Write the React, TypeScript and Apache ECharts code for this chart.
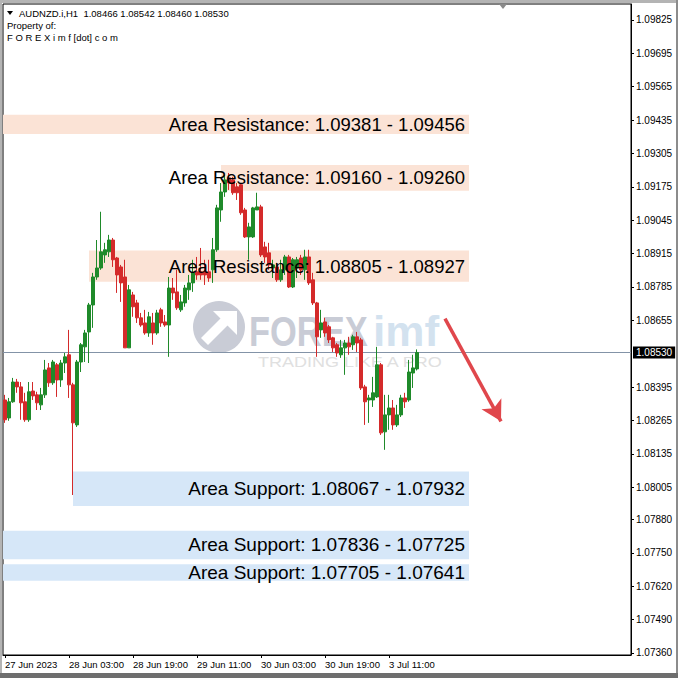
import React, { useEffect, useRef } from 'react';
import * as echarts from 'echarts';

const SYMBOL = 'AUDNZD.i,H1';
const START_UTC = Date.UTC(2023, 5, 27, 11);
const SLOT_COUNT = 157;
const MONTHS = ['Jan', 'Feb', 'Mar', 'Apr', 'May', 'Jun', 'Jul', 'Aug', 'Sep', 'Oct', 'Nov', 'Dec'];

const opens = [
  1.08345, 1.08275, 1.08338, 1.08415, 1.08396, 1.08338, 1.08268, 1.08380, 1.08365, 1.08326,
  1.08365, 1.08470, 1.08412, 1.08482, 1.08423, 1.08489, 1.08521, 1.08404, 1.08248, 1.08493,
  1.08552, 1.08610, 1.08715, 1.08824, 1.08859, 1.08910, 1.08922, 1.08968, 1.08898, 1.08863,
  1.08824, 1.08548, 1.08754, 1.08723, 1.08665, 1.08645, 1.08606, 1.08645, 1.08606, 1.08696,
  1.08649, 1.08637, 1.08781, 1.08766, 1.08696, 1.08723, 1.08774, 1.08801, 1.08844, 1.08844,
  1.08844, 1.08844, 1.08852, 1.08930, 1.09085, 1.09155, 1.09210, 1.09202, 1.09175, 1.09183,
  1.09085, 1.08980, 1.08980, 1.09085, 1.09097, 1.08941, 1.08918, 1.08859, 1.08863, 1.08813,
  1.08852, 1.08902, 1.08785, 1.08859, 1.08898, 1.08852, 1.08902, 1.08813, 1.08723, 1.08618,
  1.08649, 1.08630, 1.08587, 1.08560, 1.08521, 1.08548, 1.08567, 1.08560, 1.08591, 1.08579,
  1.08396, 1.08345, 1.08345, 1.08357, 1.08482, 1.08221, 1.08287, 1.08314, 1.08248, 1.08287,
  1.08353, 1.08345, 1.08450, 1.08466,
];
const closes = [
  1.08268, 1.08338, 1.08415, 1.08396, 1.08334, 1.08268, 1.08377, 1.08361, 1.08334, 1.08365,
  1.08462, 1.08412, 1.08493, 1.08423, 1.08489, 1.08513, 1.08404, 1.08256, 1.08493, 1.08560,
  1.08606, 1.08715, 1.08824, 1.08859, 1.08922, 1.08930, 1.08968, 1.08891, 1.08832, 1.08801,
  1.08548, 1.08774, 1.08708, 1.08665, 1.08637, 1.08606, 1.08669, 1.08606, 1.08684, 1.08645,
  1.08637, 1.08781, 1.08762, 1.08704, 1.08727, 1.08781, 1.08801, 1.08840, 1.08832, 1.08832,
  1.08832, 1.08820, 1.08930, 1.09093, 1.09155, 1.09202, 1.09190, 1.09152, 1.09152, 1.09074,
  1.08980, 1.09019, 1.09093, 1.09097, 1.08910, 1.08902, 1.08871, 1.08871, 1.08813, 1.08852,
  1.08902, 1.08785, 1.08891, 1.08891, 1.08852, 1.08902, 1.08801, 1.08723, 1.08591, 1.08645,
  1.08606, 1.08579, 1.08548, 1.08528, 1.08548, 1.08567, 1.08552, 1.08591, 1.08567, 1.08392,
  1.08338, 1.08353, 1.08373, 1.08482, 1.08217, 1.08287, 1.08314, 1.08248, 1.08287, 1.08353,
  1.08338, 1.08454, 1.08470, 1.08530,
];
const lows = [
  1.08256, 1.08264, 1.08334, 1.08373, 1.08268, 1.08260, 1.08260, 1.08345, 1.08306, 1.08306,
  1.08353, 1.08396, 1.08404, 1.08357, 1.08396, 1.08450, 1.08353, 1.07975, 1.08240, 1.08454,
  1.08493, 1.08489, 1.08626, 1.08813, 1.08852, 1.08879, 1.08902, 1.08863, 1.08762, 1.08727,
  1.08548, 1.08548, 1.08669, 1.08645, 1.08630, 1.08599, 1.08591, 1.08560, 1.08599, 1.08630,
  1.08630, 1.08513, 1.08735, 1.08696, 1.08688, 1.08708, 1.08735, 1.08766, 1.08813, 1.08813,
  1.08793, 1.08805, 1.08801, 1.08922, 1.09039, 1.09136, 1.09163, 1.09144, 1.09124, 1.09066,
  1.08976, 1.08891, 1.08976, 1.09085, 1.08902, 1.08879, 1.08852, 1.08820, 1.08805, 1.08805,
  1.08832, 1.08781, 1.08781, 1.08820, 1.08832, 1.08813, 1.08793, 1.08715, 1.08513, 1.08587,
  1.08591, 1.08567, 1.08532, 1.08513, 1.08509, 1.08443, 1.08521, 1.08540, 1.08532, 1.08384,
  1.08248, 1.08256, 1.08318, 1.08353, 1.08209, 1.08151, 1.08229, 1.08229, 1.08240, 1.08279,
  1.08314, 1.08338, 1.08392, 1.08460,
];
const highs = [
  1.08365, 1.08353, 1.08431, 1.08427, 1.08415, 1.08373, 1.08415, 1.08415, 1.08377, 1.08392,
  1.08501, 1.08489, 1.08501, 1.08489, 1.08501, 1.08528, 1.08618, 1.08412, 1.08501, 1.08567,
  1.08618, 1.08723, 1.08840, 1.08968, 1.09078, 1.08957, 1.08988, 1.08976, 1.08902, 1.08871,
  1.08891, 1.08793, 1.08766, 1.08735, 1.08684, 1.08696, 1.08688, 1.08684, 1.08696, 1.08704,
  1.08676, 1.08824, 1.08820, 1.08852, 1.08754, 1.08793, 1.08832, 1.08891, 1.08902, 1.08937,
  1.08891, 1.08891, 1.08976, 1.09105, 1.09190, 1.09222, 1.09229, 1.09214, 1.09190, 1.09190,
  1.09093, 1.09035, 1.09097, 1.09152, 1.09105, 1.08961, 1.08957, 1.08891, 1.08879, 1.08891,
  1.08910, 1.08910, 1.08898, 1.08902, 1.08910, 1.08930, 1.08930, 1.08840, 1.08727, 1.08696,
  1.08665, 1.08637, 1.08591, 1.08567, 1.08579, 1.08579, 1.08591, 1.08599, 1.08610, 1.08587,
  1.08404, 1.08365, 1.08435, 1.08552, 1.08489, 1.08365, 1.08365, 1.08345, 1.08326, 1.08365,
  1.08373, 1.08501, 1.08521, 1.08542,
];

const xTickLabels = ['27 Jun 2023', '28 Jun 03:00', '28 Jun 19:00', '29 Jun 11:00', '30 Jun 03:00', '30 Jun 19:00', '3 Jul 11:00'];
const X_TICK_EVERY = 16;
const yTickValues = [
  1.07360, 1.07490, 1.07620, 1.07750, 1.07880, 1.08005, 1.08135, 1.08265, 1.08395,
  1.08655, 1.08785, 1.08915, 1.09045, 1.09175, 1.09305, 1.09435, 1.09565, 1.09695, 1.09825,
];
const Y_MIN = 1.07352;
const Y_MAX = 1.09887;

// zones: [from bar index (null = chart edge), to bar index, first price, second price]
const resistanceZones: [number | null, number, number, number][] = [
  [null, 116, 1.09381, 1.09456],
  [54, 116, 1.09160, 1.09260],
  [21, 116, 1.08805, 1.08927],
];
const supportZones: [number | null, number, number, number][] = [
  [17, 116, 1.08067, 1.07932],
  [null, 116, 1.07836, 1.07725],
  [null, 116, 1.07705, 1.07641],
];
const arrowStart = [110, 1.08662];
const arrowEnd = [123.5, 1.08262];

const BULL = '#1f8a2a';
const BEAR = '#d42a2a';
const FONT = '"Liberation Sans", Arial, sans-serif';

function buildCategories(): string[] {
  const out: string[] = [];
  let t = START_UTC;
  while (out.length < SLOT_COUNT) {
    const d = new Date(t);
    const day = d.getUTCDay();
    if (day !== 0 && day !== 6) {
      const hh = String(d.getUTCHours()).padStart(2, '0');
      out.push(`${d.getUTCDate()} ${MONTHS[d.getUTCMonth()]} ${hh}:00`);
    }
    t += 3600000;
  }
  return out;
}

function zoneItems(zones: [number | null, number, number, number][], title: string, withLabel: boolean, fontSize: number) {
  return zones.map(([from, to, a, b]) => {
    const hi = Math.max(a, b);
    const lo = Math.min(a, b);
    const first: any = {
      name: withLabel ? `${title}: ${a.toFixed(5)} - ${b.toFixed(5)}` : '',
      yAxis: hi,
      label: { fontSize },
    };
    if (from !== null) first.xAxis = from;
    return [first, { xAxis: to, yAxis: lo }];
  });
}

export default function App() {
  const ref = useRef<HTMLDivElement>(null);
  useEffect(() => {
    document.body.style.margin = '0';
    const chart = echarts.init(ref.current as HTMLDivElement, null, { renderer: 'svg' });
    const categories = buildCategories();
    const data = opens.map((o, i) => [o, closes[i], lows[i], highs[i]]);
    const last = data.length - 1;
    const header = `${SYMBOL}  ${opens[last].toFixed(5)} ${highs[last].toFixed(5)} ${lows[last].toFixed(5)} ${closes[last].toFixed(5)}`;
    const showTick = (idx: number) => idx % X_TICK_EVERY === 0 && idx / X_TICK_EVERY < xTickLabels.length;

    const labelStyle = {
      show: true,
      position: 'insideRight',
      distance: 4,
      color: '#000',
      fontSize: 18.5,
      fontFamily: FONT,
      formatter: (p: any) => p.name,
    };

    const option: any = {
      animation: false,
      backgroundColor: '#fff',
      grid: { left: 3, top: 4, right: 47, bottom: 23, show: true, borderColor: '#000', borderWidth: 1, backgroundColor: 'transparent' },
      xAxis: {
        type: 'category',
        data: categories,
        boundaryGap: true,
        axisLine: { show: true, lineStyle: { color: '#000', width: 1 } },
        axisTick: { show: true, alignWithLabel: true, interval: (i: number) => showTick(i), length: 3, lineStyle: { color: '#000' } },
        axisLabel: {
          interval: (i: number) => showTick(i),
          formatter: (_v: string, i: number) => xTickLabels[i / X_TICK_EVERY] ?? '',
          align: 'left',
          margin: 4,
          color: '#000',
          fontSize: 9.5,
          fontFamily: FONT,
        },
        splitLine: { show: false },
      },
      yAxis: {
        type: 'value',
        position: 'right',
        min: Y_MIN,
        max: Y_MAX,
        axisLine: { show: true, lineStyle: { color: '#000', width: 1 } },
        axisTick: { show: true, customValues: yTickValues, length: 3, lineStyle: { color: '#000' } },
        axisLabel: {
          customValues: yTickValues,
          formatter: (v: number) => v.toFixed(5),
          color: '#000',
          fontSize: 10,
          fontFamily: FONT,
          margin: 5,
        },
        splitLine: { show: false },
      },
      graphic: [
        { type: 'rect', shape: { x: 0, y: 0, width: 678, height: 3 }, style: { fill: '#b4b4b4' }, z: 20, silent: true },
        { type: 'rect', shape: { x: 0, y: 0, width: 2, height: 678 }, style: { fill: '#b4b4b4' }, z: 20, silent: true },
        { type: 'rect', shape: { x: 676, y: 0, width: 2, height: 678 }, style: { fill: '#8c8c8c' }, z: 20, silent: true },
        { type: 'rect', shape: { x: 0, y: 673, width: 678, height: 5 }, style: { fill: '#6e6e6e' }, z: 20, silent: true },
        { type: 'polygon', shape: { points: [[499, 4], [507, 4], [503, 9]] }, style: { fill: '#8a8a8a' }, z: 20, silent: true },
        { type: 'polygon', shape: { points: [[7, 11], [13, 11], [10, 15]] }, style: { fill: '#000' }, z: 20, silent: true },
        { type: 'text', x: 19, y: 13, style: { text: header, fill: '#000', font: `9.5px ${FONT}`, verticalAlign: 'middle' }, z: 20, silent: true },
        { type: 'text', x: 7, y: 25, style: { text: 'Property of:', fill: '#000', font: `9.5px ${FONT}`, verticalAlign: 'middle' }, z: 20, silent: true },
        { type: 'text', x: 7, y: 37, style: { text: 'F O R E X i m f [dot] c o m', fill: '#000', font: `9.5px ${FONT}`, verticalAlign: 'middle' }, z: 20, silent: true },
        // watermark
        { type: 'circle', shape: { cx: 219, cy: 327, r: 26 }, style: { fill: '#c9ccd6' }, z: 1, silent: true },
        { type: 'polygon', shape: { points: [[213, 311], [237, 311], [237, 335]] }, style: { fill: '#fff' }, z: 1, silent: true },
        { type: 'polygon', shape: { points: [[201, 338], [208, 345], [230, 323], [223, 316]] }, style: { fill: '#fff' }, z: 1, silent: true },
        { type: 'text', x: 249, y: 331, scaleX: 0.82, style: { text: 'FOREX', fill: '#c9ccd6', font: `bold 42px ${FONT}`, verticalAlign: 'middle' }, z: 1, silent: true },
        { type: 'text', x: 373, y: 331, scaleX: 1.05, style: { text: 'imf', fill: '#d3e2ef', font: `bold 42px ${FONT}`, verticalAlign: 'middle' }, z: 1, silent: true },
        { type: 'text', x: 258, y: 362, scaleX: 1.2, style: { text: 'TRADING LIKE A PRO', fill: '#e0e0e0', font: `15px ${FONT}`, verticalAlign: 'middle' }, z: 1, silent: true },
      ],
      series: [
        {
          type: 'candlestick',
          data,
          barWidth: 3,
          z: 2,
          itemStyle: { color: BULL, color0: BEAR, borderColor: BULL, borderColor0: BEAR, borderWidth: 1 },
          markArea: {
            silent: true,
            z: 1,
            data: [
              ...zoneItems(resistanceZones, 'Area Resistance', false, 18.5).map((p) => [{ ...p[0], itemStyle: { color: '#fbe3d6' } }, p[1]]),
              ...zoneItems(supportZones, 'Area Support', false, 19).map((p) => [{ ...p[0], itemStyle: { color: '#d6e7f8' } }, p[1]]),
            ],
            label: { show: false },
          },
          markLine: {
            silent: true,
            z: 1,
            precision: 5,
            symbol: ['none', 'none'],
            lineStyle: { color: '#8393a7', width: 1, type: 'solid' },
            label: {
              show: true,
              position: 'end',
              distance: 2,
              formatter: () => closes[last].toFixed(5),
              backgroundColor: '#000',
              color: '#fff',
              fontSize: 10,
              fontFamily: FONT,
              padding: [1, 3, 1, 3],
            },
            data: [{ yAxis: closes[last] }],
          },
        },
        {
          type: 'line',
          data: [],
          z: 5,
          silent: true,
          markArea: {
            silent: true,
            z: 5,
            itemStyle: { color: 'rgba(0,0,0,0)' },
            label: labelStyle,
            data: [
              ...zoneItems(resistanceZones, 'Area Resistance', true, 18.5),
              ...zoneItems(supportZones, 'Area Support', true, 19),
            ],
          },
        },
        {
          type: 'line',
          data: [],
          z: 6,
          silent: true,
          markLine: {
            silent: true,
            z: 6,
            precision: 5,
            symbol: ['none', 'arrow'],
            symbolSize: [17, 20],
            lineStyle: { color: '#e0474c', width: 3.5, type: 'solid' },
            label: { show: false },
            data: [[{ coord: arrowStart }, { coord: arrowEnd }]],
          },
        },
      ],
    };
    chart.setOption(option);
    return () => chart.dispose();
  }, []);
  return <div ref={ref} style={{ width: 678, height: 678, background: '#fff' }} />;
}
